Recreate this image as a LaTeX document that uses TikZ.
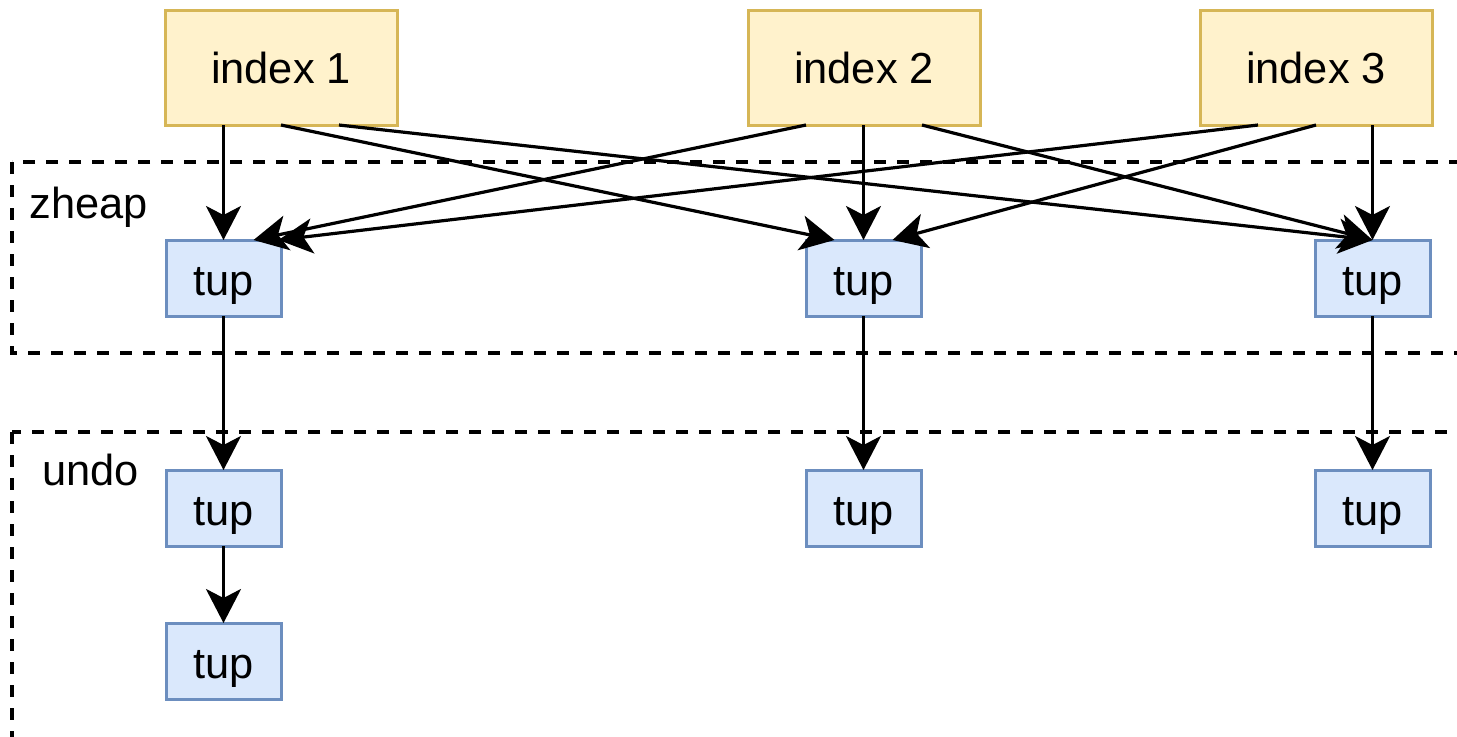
\documentclass[tikz,border=0pt]{standalone}
\usepackage{fontspec}
\setmainfont{Liberation Sans}
\usetikzlibrary{arrows.meta}
\definecolor{idxfill}{HTML}{FFF2CC}
\definecolor{idxline}{HTML}{D6B656}
\definecolor{tupfill}{HTML}{DAE8FC}
\definecolor{tupline}{HTML}{6C8EBF}
\tikzset{
  idxbox/.style={draw=idxline, fill=idxfill, line width=1.5pt,
    minimum width=116pt, minimum height=57.5pt, inner sep=0pt, outer sep=0pt,
    text height=15.5pt, text depth=0pt,
    font=\fontsize{21.7}{26}\selectfont},
  tupbox/.style={draw=tupline, fill=tupfill, line width=1.5pt,
    minimum width=57.5pt, minimum height=38pt, inner sep=0pt, outer sep=0pt,
    text height=17pt, text depth=0pt,
    font=\fontsize{21.7}{26}\selectfont},
  zone/.style={draw=black, line width=1.6pt, dash pattern=on 6pt off 5.5pt},
  zonelabel/.style={anchor=base west, inner sep=0pt, font=\fontsize{21.7}{26}\selectfont},
  arr/.style={draw=black, line width=1.6pt,
    -{Stealth[length=17pt, width=17.5pt, inset=4.5pt]}}
}
\begin{document}
\begin{tikzpicture}[x=0.5pt, y=-0.5pt]
  \useasboundingbox (0,0) rectangle (1457,736);
  \clip (0,0) rectangle (1457,736);

  % storage areas
  \draw[zone] (12,162) rectangle (1500,353);
  \draw[zone] (12,432) rectangle (1500,800);
  \node[zonelabel] (lz) at (29,218) {zheap};
  \node[zonelabel] (lu) at (42,485) {undo};

  % indexes
  \node[idxbox] (i1) at (281,67.5) {index 1};
  \node[idxbox] (i2) at (864,67.5) {index 2};
  \node[idxbox] (i3) at (1316,67.5) {index 3};

  % tuples in zheap
  \node[tupbox] (z1) at (223.5,278) {tup};
  \node[tupbox] (z2) at (863.5,278) {tup};
  \node[tupbox] (z3) at (1372.5,278) {tup};

  % tuples in undo
  \node[tupbox] (u1) at (223.5,508) {tup};
  \node[tupbox] (u2) at (863.5,508) {tup};
  \node[tupbox] (u3) at (1372.5,508) {tup};
  \node[tupbox] (v1) at (223.5,661) {tup};

  % index entries pointing to zheap tuples
  \draw[arr] (z1.north |- i1.south) -- (z1.north);
  \draw[arr] (i1.south) -- ([xshift=-14.5pt]z2.north);
  \draw[arr] ([xshift=29pt]i1.south) -- (z3.north);

  \draw[arr] ([xshift=-29pt]i2.south) -- ([xshift=15pt]z1.north);
  \draw[arr] (z2.north |- i2.south) -- (z2.north);
  \draw[arr] ([xshift=29pt]i2.south) -- (z3.north);

  \draw[arr] ([xshift=-29pt]i3.south) -- ([xshift=27.5pt]z1.north);
  \draw[arr] (i3.south) -- ([xshift=14.5pt]z2.north);
  \draw[arr] (z3.north |- i3.south) -- (z3.north);

  % version chains into undo
  \draw[arr] (z1.south) -- (u1.north);
  \draw[arr] (z2.south) -- (u2.north);
  \draw[arr] (z3.south) -- (u3.north);
  \draw[arr] (u1.south) -- (v1.north);
\end{tikzpicture}
\end{document}
